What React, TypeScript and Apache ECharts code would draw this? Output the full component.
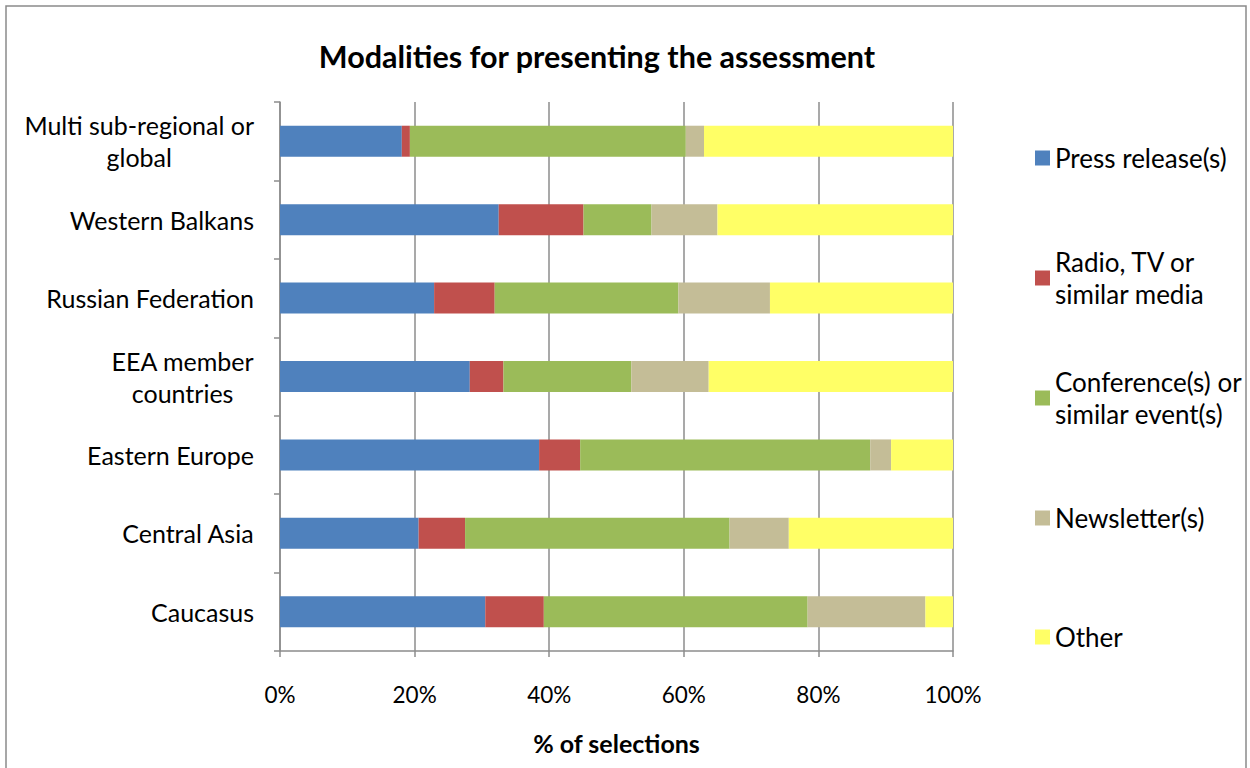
import React, { useEffect, useRef } from "react";
import * as echarts from "echarts";

const categories = [
  "Caucasus",
  "Central Asia",
  "Eastern Europe",
  "EEA member\ncountries",
  "Russian Federation",
  "Western Balkans",
  "Multi sub-regional or\nglobal",
];

const seriesNames = [
  "Press release(s)",
  "Radio, TV or\nsimilar media",
  "Conference(s) or\nsimilar event(s)",
  "Newsletter(s)",
  "Other",
];

const pressRelease = [30.5, 20.6, 38.5, 28.2, 22.9, 32.5, 18.1];
const radioTv = [8.7, 6.9, 6.1, 5.0, 9.0, 12.6, 1.2];
const conference = [39.2, 39.3, 43.1, 19.0, 27.3, 10.1, 41.0];
const newsletter = [17.5, 8.8, 3.1, 11.5, 13.6, 9.8, 2.7];
const other = [4.1, 24.4, 9.2, 36.3, 27.2, 35.0, 37.0];

const xTicks = [0, 20, 40, 60, 80, 100];

const colors = ["#4F81BD", "#C0504D", "#9BBB59", "#C4BD97", "#FFFF66"];
const legendIconCenters = [158, 278, 398, 518, 637];

const FONT = "Lato";

export default function App() {
  const ref = useRef<HTMLDivElement>(null);
  useEffect(() => {
    if (!ref.current) return;
    const chart = echarts.init(ref.current, null, { renderer: "svg" });
    const values = [pressRelease, radioTv, conference, newsletter, other];
    const lineH = 32;
    const legends = seriesNames.map((name, i) => {
      const twoLine = name.includes("\n");
      return {
        data: [name],
        orient: "vertical",
        left: 1035,
        top: legendIconCenters[i] - (twoLine ? lineH * 1.5 : lineH / 2),
        padding: 0,
        itemWidth: 15,
        itemHeight: 15,
        selectedMode: false,
        icon: "rect",
        textStyle: {
          fontFamily: FONT,
          fontSize: 26,
          color: "#000",
          lineHeight: lineH,
          padding: twoLine ? [lineH, 0, 0, 0] : 0,
        },
      };
    });
    chart.setOption({
      animation: false,
      backgroundColor: "#fff",
      title: {
        text: "Modalities for presenting the assessment",
        left: 592,
        textAlign: "center",
        top: 35,
        textStyle: { fontFamily: FONT, fontSize: 30.5, fontWeight: "bold", color: "#000" },
      },
      graphic: [
        {
          type: "rect",
          shape: { x: 6, y: 6, width: 1240, height: 800 },
          style: { fill: "none", stroke: "#8a8a8a", lineWidth: 1.5 },
          silent: true,
        },
      ],
      legend: legends,
      grid: { left: 280, right: 297, top: 102, bottom: 117, containLabel: false },
      xAxis: {
        type: "value",
        min: 0,
        max: 100,
        interval: 20,
        name: "% of selections",
        nameLocation: "middle",
        nameGap: 79,
        nameTextStyle: { fontFamily: FONT, fontSize: 25, fontWeight: "bold", color: "#000" },
        axisLine: { show: true, lineStyle: { color: "#8c8c8c", width: 1.5 } },
        axisTick: { show: true, length: 6, lineStyle: { color: "#8c8c8c", width: 1.5 } },
        axisLabel: {
          formatter: (v: number) => (xTicks.includes(v) ? v + "%" : ""),
          fontFamily: FONT,
          fontSize: 22.5,
          color: "#000",
          margin: 32,
        },
        splitLine: { show: true, lineStyle: { color: "#8c8c8c", width: 1.5 } },
      },
      yAxis: {
        type: "category",
        data: categories,
        axisLine: { show: true, lineStyle: { color: "#8c8c8c", width: 1.5 } },
        axisTick: { show: true, length: 6, inside: false, lineStyle: { color: "#8c8c8c", width: 1.5 } },
        axisLabel: {
          margin: 26,
          align: "right",
          formatter: (v: string) => v.split("\n").map((l) => `{c|${l}}`).join("\n"),
          rich: {
            c: { align: "center", fontFamily: FONT, fontSize: 25, color: "#000", lineHeight: 32 },
          },
        },
        splitLine: { show: false },
      },
      series: seriesNames.map((name, i) => ({
        name,
        type: "bar",
        stack: "total",
        barWidth: 31,
        data: values[i],
        itemStyle: { color: colors[i] },
      })),
    });
    return () => chart.dispose();
  }, []);
  return (
    <div
      ref={ref}
      style={{ position: "absolute", left: 0, top: 0, width: 1250, height: 768 }}
    />
  );
}
